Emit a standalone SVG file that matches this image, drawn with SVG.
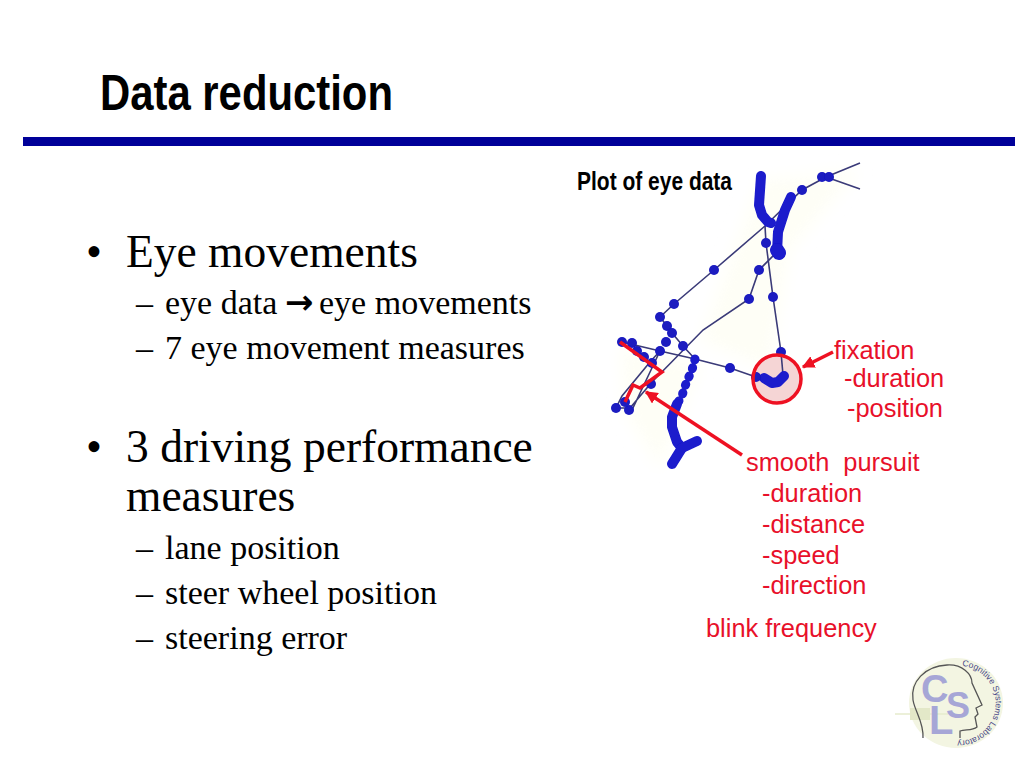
<svg xmlns="http://www.w3.org/2000/svg" width="1024" height="768" viewBox="0 0 1024 768">
<style>
.t{font-family:"Liberation Serif",serif;fill:#000}
.b{font-size:45.5px}
.s{font-size:34px}
.a{font-family:"DejaVu Sans",sans-serif;font-weight:700;font-size:34px}
.r{font-family:"Liberation Sans",sans-serif;font-size:25.4px;fill:#e8102a}
.thin{fill:none;stroke:#3a3a78;stroke-width:1.6}
.thick{fill:none;stroke:#1a1acc;stroke-width:10;stroke-linecap:round;stroke-linejoin:round}
.dots circle{fill:#1a1ac0;r:5px}
.red{fill:none;stroke:#ee1122;stroke-width:3.5}
.lg{font-family:"Liberation Sans",sans-serif;font-weight:700;fill:#a6a6d6}
</style>
<defs>
<marker id="ah" viewBox="0 0 10 10" refX="9" refY="5" markerWidth="3.6" markerHeight="3.6" orient="auto-start-reverse" markerUnits="strokeWidth"><path d="M0 0L10 5L0 10Z" fill="#ee1122"/></marker>
<filter id="soft" x="-20%" y="-20%" width="140%" height="140%"><feGaussianBlur stdDeviation="0.5"/></filter>
<filter id="glow" x="-20%" y="-20%" width="140%" height="140%"><feGaussianBlur stdDeviation="8"/></filter>
</defs>
<rect width="1024" height="768" fill="#fff"/>
<g id="title">
<text x="100" y="110" textLength="293" lengthAdjust="spacingAndGlyphs" font-family="'Liberation Sans',sans-serif" font-weight="700" font-size="50">Data reduction</text>
<rect x="23" y="137" width="992" height="9" fill="#000099"/>
</g>
<g id="bullets">
<text class="t b" x="86" y="267">•</text><text class="t b" x="126" y="267">Eye movements</text>
<text class="t s" x="136" y="314">–</text><text class="t s" x="165" y="314">eye data</text>
<text class="a" x="285" y="314">→</text>
<text class="t s" x="319" y="314">eye movements</text>
<text class="t s" x="136" y="359">–</text><text class="t s" x="165" y="359">7 eye movement measures</text>
<text class="t b" x="86" y="462">•</text><text class="t b" x="126" y="462">3 driving performance</text>
<text class="t b" x="126" y="511">measures</text>
<text class="t s" x="136" y="559">–</text><text class="t s" x="165" y="559">lane position</text>
<text class="t s" x="136" y="604">–</text><text class="t s" x="165" y="604">steer wheel position</text>
<text class="t s" x="136" y="649">–</text><text class="t s" x="165" y="649">steering error</text>
</g>
<g id="plot">
<text x="577" y="190" textLength="155" lengthAdjust="spacingAndGlyphs" font-family="'Liberation Sans',sans-serif" font-weight="700" font-size="25">Plot of eye data</text>
<path d="M620 345L700 365L660 470L625 410ZM760 180L860 170L790 250L770 370L700 340Z" fill="#fefef6" filter="url(#glow)"/>
<circle cx="777" cy="379" r="24" fill="#f5d5d5"/>
<g filter="url(#soft)">
<g class="thin">
<path d="M860 163L826 177L802 190L765 226L714 270L674 304L660 317L667 326L672 333L683 346L695 359"/>
<path d="M826 177L860 189"/>
<path d="M777 252L759 270L749 299L703 330L652 382L630 408L616 408L622 396L650 362L660 351L632 410"/>
<path d="M765 226L766 243L773 297L781 352L783 375"/>
<path d="M622 342L660 351L695 359L730 368L756 377"/>
</g>
<g class="thick">
<path d="M761 176L759 205L762 215L768 222L771 223"/>
<path d="M791 197L785 210L778 232L777 252"/>
<path d="M777 250L779 253" stroke-width="14"/>
<path d="M695 359L692 370L687 381L684 389L682 396L677 404" stroke-width="9" stroke-dasharray="1 8"/>
<path d="M677 404L672 417L672 427L677 442L682 448"/>
<path d="M697 441L682 448L672 464"/>
<path d="M764 378L772 383L778 382L784 376"/>
</g>
<g class="dots">
<circle cx="822" cy="177"/><circle cx="829" cy="177"/><circle cx="802" cy="190"/><circle cx="714" cy="270"/><circle cx="674" cy="304"/><circle cx="660" cy="317"/><circle cx="667" cy="326"/><circle cx="672" cy="333"/><circle cx="683" cy="346"/>
<circle cx="759" cy="270"/><circle cx="749" cy="299"/><circle cx="766" cy="243"/><circle cx="773" cy="297"/><circle cx="781" cy="352"/><circle cx="730" cy="368"/><circle cx="756" cy="377"/>
<circle cx="622" cy="342"/><circle cx="632" cy="343"/><circle cx="666" cy="342"/><circle cx="660" cy="351"/><circle cx="637" cy="351"/><circle cx="644" cy="357"/><circle cx="652" cy="363"/><circle cx="651" cy="384"/><circle cx="616" cy="408"/><circle cx="629" cy="410"/><circle cx="625" cy="402"/>
</g>
</g>
<circle class="red" cx="777" cy="379" r="24"/>
<path class="red" d="M620 342L662 372L640 388L633 385L625 402" stroke-width="3"/>
<path class="red" d="M833 352L803 367" marker-end="url(#ah)"/>
<path class="red" d="M742 455L646 392" marker-end="url(#ah)"/>
</g>
<g id="labels">
<text class="r" x="834" y="359">fixation</text>
<text class="r" x="844" y="387">-duration</text>
<text class="r" x="847" y="417">-position</text>
<text class="r" x="746" y="471" xml:space="preserve">smooth  pursuit</text>
<text class="r" x="762" y="502">-duration</text>
<text class="r" x="762" y="533">-distance</text>
<text class="r" x="762" y="564">-speed</text>
<text class="r" x="762" y="594">-direction</text>
<text class="r" x="706" y="637">blink frequency</text>
</g>
<g id="logo">
<ellipse cx="956" cy="703" rx="47" ry="45" fill="#f3f5e2"/>
<path d="M895 714H948" stroke="#e6ebcc" stroke-width="1.5"/>
<rect x="910" y="708" width="20" height="12" fill="#e3e8c8"/>
<path d="M923 738C924 722 915 712 913 700C910 682 925 666 947 665C962 664 972 674 972 683L982 705L976 708L978 714L975 717L977 727C972 731 965 729 960 731L960 738" fill="none" stroke="#555" stroke-width="1.3"/>
<text class="lg" x="921" y="702" font-size="38">C</text>
<text class="lg" x="946" y="718" font-size="36">S</text>
<text class="lg" x="929" y="734" font-size="40">L</text>
<path id="arc" d="M962 666A37.5 37.5 0 1 1 944 738" fill="none"/>
<text font-family="'Liberation Sans',sans-serif" font-size="8.6" fill="#4a4a88"><textPath href="#arc">Cognitive Systems Laboratory</textPath></text>
</g>
</svg>
